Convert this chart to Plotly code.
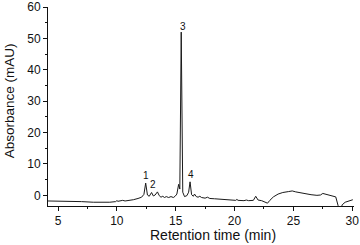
import plotly.graph_objects as go

# Retention time (min) and absorbance (mAU)
rt = [4.15, 5.0, 6.0, 7.0, 8.0, 8.6, 9.4, 9.9, 10.0, 10.1, 10.4, 10.5, 10.7, 11.0, 11.4, 11.8,
      12.1, 12.3, 12.45, 12.6, 12.75, 12.95, 13.1, 13.25, 13.45, 13.6, 13.75, 13.9, 14.05, 14.2,
      14.4, 14.6, 14.8, 14.95, 15.1, 15.25, 15.35, 15.47, 15.6, 15.75, 15.95, 16.1, 16.22, 16.35,
      16.5, 16.6, 16.75, 16.9, 17.05, 17.2, 17.5, 17.7, 17.9, 18.3, 18.8, 19.3, 19.8, 20.1, 20.2,
      20.3, 20.8, 21.0, 21.2, 21.6, 21.8, 22.0, 22.3, 22.6, 22.8, 23.0, 23.3, 23.7, 24.1, 24.6,
      24.9, 25.2, 25.5, 26.0, 26.5, 27.0, 27.3, 27.5, 27.7, 28.0, 28.4, 28.6, 28.8, 28.9, 29.05,
      29.15, 29.4, 29.7, 30.05]
absorb = [-1.8, -1.8, -1.9, -2.0, -2.2, -2.3, -2.2, -2.0, -1.7, -1.9, -1.8, -1.6, -1.8, -1.7, -1.4, -1.0,
          -0.6, 0.3, 3.9, 0.1, -0.3, 0.9, -0.2, 0.1, 1.1, -0.1, -0.6, -0.3, -0.7, -0.4,
          -0.7, -0.4, -0.7, -0.3, 0.4, 3.5, 2.0, 52.0, 1.0, -0.4, -0.1, 1.0, 4.3, 0.2,
          -0.3, 0.4, -0.4, -0.6, -0.3, -0.7, -0.9, -0.6, -1.0, -1.1, -1.3, -1.5, -1.6, -1.6, -1.3,
          -1.6, -1.7, -1.5, -1.7, -1.6, -0.3, -1.5, -1.7, -2.2, -2.5, -1.6, -0.5, 0.4, 0.9, 1.2,
          1.4, 1.1, 0.9, 0.4, 0.2, 0.0, 0.1, 0.6, 0.4, 0.1, -0.1, -0.5, -3.3, -4.5, -4.2,
          -3.0, -2.2, -1.8, -1.4]

peak_labels = ["1", "2", "3", "4"]
peak_label_x = [12.46, 13.06, 15.6, 16.3]
peak_label_y = [6.2, 3.4, 53.7, 6.6]

x_ticks = [5, 10, 15, 20, 25, 30]
y_ticks = [0, 10, 20, 30, 40, 50, 60]

font_family = "Liberation Sans, Arial, sans-serif"

fig = go.Figure()
fig.add_trace(go.Scatter(x=rt, y=absorb, mode="lines",
                         line=dict(color="#1a1a1a", width=1), hoverinfo="skip"))

for t, lx, ly in zip(peak_labels, peak_label_x, peak_label_y):
    fig.add_annotation(x=lx, y=ly, text=t, showarrow=False,
                       font=dict(size=10, color="#111", family=font_family))

fig.add_annotation(xref="paper", yref="paper", x=0.54, y=-0.146, yanchor="middle",
                   text="Retention time (min)", showarrow=False,
                   font=dict(size=14, color="#111", family=font_family))
fig.add_annotation(xref="paper", yref="paper", x=-0.125, y=0.53, textangle=-90,
                   text="Absorbance (mAU)", showarrow=False, xanchor="center",
                   font=dict(size=13.5, color="#111", family=font_family))

axis_common = dict(showline=True, linecolor="#111", linewidth=1, showgrid=False,
                   zeroline=False, ticks="outside", ticklen=4, tickwidth=1, tickcolor="#111",
                   tickfont=dict(size=12, color="#111", family=font_family), mirror=False,
                   automargin=False)

fig.update_xaxes(range=[4.15, 30.15], tickvals=x_ticks,
                 minor=dict(dtick=2.5, tick0=0, ticks="outside", ticklen=2, tickcolor="#111"),
                 **axis_common)
fig.update_yaxes(range=[-3.4, 60], tickvals=y_ticks,
                 minor=dict(dtick=5, tick0=0, ticks="outside", ticklen=2, tickcolor="#111"),
                 **axis_common)

fig.update_layout(width=360, height=245, margin=dict(l=48, r=6, t=7, b=39),
                  plot_bgcolor="white", paper_bgcolor="white", showlegend=False,
                  font=dict(family=font_family))

fig.write_html("out.html", config={"displayModeBar": False},
               post_script="document.body.style.margin='0px';document.body.style.overflow='hidden';")
